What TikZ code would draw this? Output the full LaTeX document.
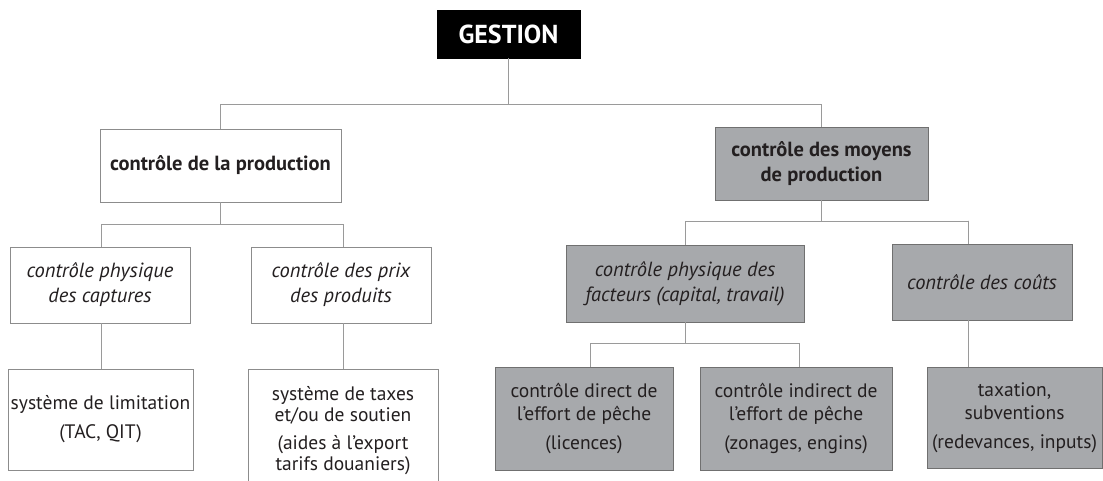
\documentclass[tikz,border=0pt]{standalone}
\usepackage{fontspec}
\setmainfont{PT Sans}
\definecolor{boxgrey}{HTML}{A7A9AC}
\definecolor{wline}{HTML}{8C8C8C}
\definecolor{gline}{HTML}{707070}
\definecolor{connline}{HTML}{9A9A9A}
\definecolor{ink}{HTML}{231F20}
\tikzset{
  box/.style={draw, line width=0.8pt, inner sep=0pt, align=center, anchor=center, text=ink,
    font=\fontsize{19.5}{23}\selectfont},
  wbox/.style={box, draw=wline, fill=white},
  gbox/.style={box, draw=gline, fill=boxgrey},
  bigbold/.style={font=\fontsize{20.5}{25}\selectfont\bfseries},
  ital/.style={font=\fontsize{20.5}{25}\selectfont\itshape},
  conn/.style={draw=connline, line width=0.8pt},
}
\begin{document}
\begin{tikzpicture}[x=1pt,y=-1pt]
\useasboundingbox (0,0) rectangle (1103,481);
\clip (0,0) rectangle (1103,481);
\fill[white] (0,0) rectangle (1103,481);

% level 1
\node[box, draw=black, fill=black, text=white, minimum width=143pt, minimum height=48pt,
  font=\fontsize{26}{28}\selectfont\bfseries] (gestion) at (508.5,34) {GESTION};

% level 2
\node[wbox, bigbold, minimum width=241pt, minimum height=73pt] (prod) at (220.5,165.5)
  {contrôle de la production};
\node[gbox, bigbold, minimum width=213pt, minimum height=73pt] (moyens) at (821.5,163.5)
  {contrôle des moyens\\de production};

% level 3
\node[wbox, ital, minimum width=180pt, minimum height=76pt] (capt) at (100,285)
  {contrôle physique\\des captures};
\node[wbox, ital, minimum width=180pt, minimum height=76pt] (prix) at (341,285)
  {contrôle des prix\\des produits};
\node[gbox, ital, minimum width=238pt, minimum height=77pt] (fact) at (685,283.5)
  {contrôle physique des\\facteurs (capital, travail)};
\node[gbox, ital, minimum width=180pt, minimum height=76pt] (couts) at (982,282)
  {contrôle des coûts};

% level 4
\node[wbox, minimum width=185pt, minimum height=101pt] (limit) at (100.5,419.5)
  {système de limitation\\[6pt](TAC, QIT)};
\node[wbox, minimum width=190pt, minimum height=124pt, font=\fontsize{19.5}{21}\selectfont] (taxes) at (343,431)
  {système de taxes\\et/ou de soutien\\[7pt](aides à l’export\\tarifs douaniers)};
\node[gbox, minimum width=178pt, minimum height=103pt] (direct) at (584,418.5)
  {contrôle direct de\\l’effort de pêche\\[6pt](licences)};
\node[gbox, minimum width=192pt, minimum height=103pt] (indirect) at (796,418.5)
  {contrôle indirect de\\l’effort de pêche\\[6pt](zonages, engins)};
\node[gbox, minimum width=175pt, minimum height=101pt] (taxation) at (1014.5,417.5)
  {taxation,\\subventions\\[6pt](redevances, inputs)};

% connectors
\draw[conn] (gestion.south) -- ++(0,46) coordinate (b1);
\draw[conn] (prod.north) |- (b1) -| (moyens.north);

\draw[conn] (prod.south) -- ++(0,22) coordinate (b2);
\draw[conn] ([xshift=1pt]capt.north) |- (b2) -| ([xshift=2pt]prix.north);

\draw[conn] (moyens.south) -- ++(0,21) coordinate (b3);
\coordinate (c3) at (968,221);
\draw[conn] (fact.north) |- (b3) -| (c3) -- (couts.north -| c3);

\draw[conn] (fact.south) -- ++(0,21) coordinate (b4);
\draw[conn] ([xshift=6pt]direct.north) |- (b4) -| ([xshift=3pt]indirect.north);

\draw[conn] ([xshift=1pt]capt.south) -- ([xshift=1pt]capt.south |- limit.north);
\draw[conn] ([xshift=2pt]prix.south) -- ([xshift=2pt]prix.south |- taxes.north);
\draw[conn] (couts.south -| c3) -- (taxation.north -| c3);
\end{tikzpicture}
\end{document}
